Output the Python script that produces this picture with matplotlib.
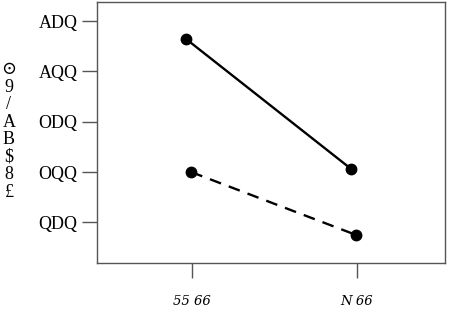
import matplotlib
matplotlib.use("Agg")
import matplotlib.pyplot as plt

# Data
categories = ["55 66", "N 66"]
series_solid = [2.32, 1.03]
series_dashed = [1.00, 0.375]
y_ticks = [0.5, 1.0, 1.5, 2.0, 2.5]
y_tick_labels = ["QDQ", "OQQ", "ODQ", "AQQ", "ADQ"]
y_label_chars = ["⊙", "9", "/", "A", "B", "$", "8", "£"]

fig = plt.figure(figsize=(4.7, 3.17), dpi=100)
ax = fig.add_axes([97/470, 1 - 263/317, (445-97)/470, (263-2)/317])

x = list(range(len(categories)))
ax.plot([xi - 0.035 for xi in x], series_solid, color="black", lw=1.7,
        marker="o", ms=7.5, solid_capstyle="round")
ax.plot([xi - 0.005 for xi in x], series_dashed, color="black", lw=1.7,
        ls=(0, (5, 3.5)), marker="o", ms=7.5)

ax.set_xlim(-0.576, 1.533)
ax.set_ylim(0.097, 2.689)
ax.set_xticks(x)
ax.set_xticklabels(categories, family="DejaVu Serif", fontsize=9.5,
                   style="italic")
ax.set_yticks(y_ticks)
ax.set_yticklabels(y_tick_labels, family="Liberation Serif", fontsize=13)

for s in ax.spines.values():
    s.set_color("#555555")
    s.set_linewidth(1.0)
ax.tick_params(axis="both", length=11, width=1.0, color="#555555", pad=3)
ax.tick_params(axis="x", pad=12)

fig.text(9/470, 1 - 131/317, "\n".join(y_label_chars), ha="center",
         va="center", family=["Liberation Serif", "DejaVu Serif"],
         fontsize=13, linespacing=1.04)

fig.savefig("out.png", dpi=100)
